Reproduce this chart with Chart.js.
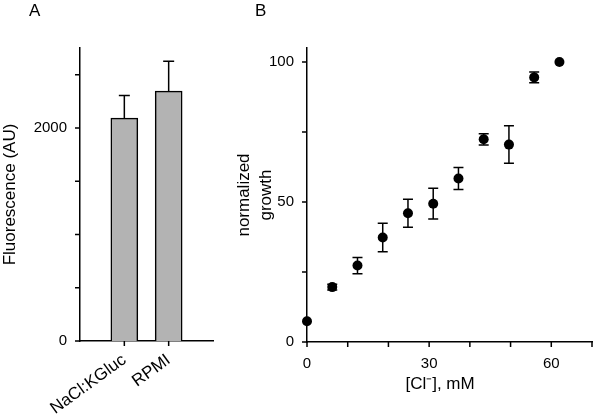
<!DOCTYPE html>
<html>
<head>
<meta charset="utf-8">
<script src="https://cdn.jsdelivr.net/npm/chart.js@4.4.1/dist/chart.umd.min.js"></script>
<style>
  body { margin: 0; background: #fff; }
  #contenedor { position: relative; width: 600px; height: 415px; }
  .letra { position: absolute; font: 17px "Liberation Sans", Arial, sans-serif; color: #000; line-height: 17px; }
  #panelA { position: absolute; left: 0; top: 0; }
  #panelB { position: absolute; left: 230px; top: 0; }
</style>
</head>
<body>
<div id="contenedor">
  <canvas id="panelA" width="230" height="415"></canvas>
  <canvas id="panelB" width="370" height="415"></canvas>
  <div class="letra" style="left:29px; top:2px;">A</div>
  <div class="letra" style="left:255px; top:2px;">B</div>
</div>
<script>
// panel A: fluorescencia
const categoriasA = ["NaCl:KGluc", "RPMI"];
const posicionesA = [1, 2];
const valoresA = [2092, 2345];
const erroresA = [213, 280];
const ticksA = [0, 500, 1000, 1500, 2000, 2500];
const etiquetasA = [0, 2000];

// panel B: crecimiento normalizado
const cloruro = [0, 6.2, 12.4, 18.6, 24.8, 31, 37.2, 43.4, 49.6, 55.8, 62];
const crecimiento = [7.4, 19.6, 27.3, 37.3, 46.0, 49.4, 58.4, 72.4, 70.5, 94.5, 100];
const erroresB = [0, 1.0, 2.9, 5.1, 5.0, 5.5, 3.9, 2.0, 6.7, 1.9, 0];
const ticksBx = [0, 10, 20, 30, 40, 50, 60, 70];
const etiquetasBx = [0, 30, 60];
const ticksBy = [0, 25, 50, 75, 100];
const etiquetasBy = [0, 50, 100];

const fuente = "'Liberation Sans', Arial, sans-serif";
Chart.defaults.font.family = fuente;
Chart.defaults.color = "#000";

// la rejilla no se pinta, pero deja sitio para las marcas
function rejilla() {
  return {
    display: false,
    offset: false,
    drawOnChartArea: false,
    drawTicks: true,
    tickLength: 5
  };
}

// marcas de los ejes hacia fuera, en los ticks de cada escala
const pluginMarcas = {
  id: "marcas",
  afterDraw(chart) {
    const ctx = chart.ctx;
    const area = chart.chartArea;
    ctx.save();
    ctx.strokeStyle = "#000";
    ctx.lineWidth = 1.5;
    ctx.beginPath();
    chart.scales.x.ticks.forEach(t => {
      var px = chart.scales.x.getPixelForValue(t.value);
      ctx.moveTo(px, area.bottom);
      ctx.lineTo(px, area.bottom + 5);
    });
    chart.scales.y.ticks.forEach(t => {
      var py = chart.scales.y.getPixelForValue(t.value);
      ctx.moveTo(area.left, py);
      ctx.lineTo(area.left - 5, py);
    });
    ctx.stroke();
    ctx.restore();
  }
};

// barras de error: se dibujan con las escalas del grafico
function pluginErrores(xs, ys, errs, soloArriba, ancho) {
  return {
    id: "errores",
    beforeDatasetsDraw(chart) {
      if (soloArriba) return;
      dibujar(chart);
    },
    afterDatasetsDraw(chart) {
      if (!soloArriba) return;
      dibujar(chart);
    }
  };
  function dibujar(chart) {
    const ctx = chart.ctx;
    const ex = chart.scales.x;
    const ey = chart.scales.y;
    ctx.save();
    ctx.strokeStyle = "#000";
    ctx.lineWidth = 1.5;
    for (var i = 0; i < xs.length; i++) {
      if (!errs[i]) continue;
      var px = ex.getPixelForValue(xs[i]);
      var arriba = ey.getPixelForValue(ys[i] + errs[i]);
      var abajo = soloArriba ? ey.getPixelForValue(ys[i]) : ey.getPixelForValue(ys[i] - errs[i]);
      ctx.beginPath();
      ctx.moveTo(px, abajo);
      ctx.lineTo(px, arriba);
      ctx.moveTo(px - ancho / 2, arriba);
      ctx.lineTo(px + ancho / 2, arriba);
      if (!soloArriba) {
        ctx.moveTo(px - ancho / 2, abajo);
        ctx.lineTo(px + ancho / 2, abajo);
      }
      ctx.stroke();
    }
    ctx.restore();
  }
}

const datosA = posicionesA.map((p, i) => ({ x: p, y: valoresA[i] }));

new Chart(document.getElementById("panelA"), {
  type: "bar",
  data: {
    datasets: [{
      data: datosA,
      backgroundColor: "#b3b3b3",
      borderColor: "#000",
      borderWidth: 1.5,
      barThickness: 27
    }]
  },
  options: {
    responsive: false,
    animation: false,
    layout: { padding: { top: 48, right: 17, left: 0, bottom: 0 } },
    plugins: { legend: { display: false }, tooltip: { enabled: false } },
    scales: {
      x: {
        type: "linear",
        min: 0,
        max: 3,
        offset: false,
        afterFit: function (escala) { escala.height = 74; },
        afterBuildTicks: function (escala) {
          escala.ticks = posicionesA.map(v => ({ value: v }));
        },
        grid: rejilla(),
        border: { display: true, color: "#000", width: 1.5 },
        ticks: {
          autoSkip: false,
          minRotation: 36,
          maxRotation: 36,
          padding: 4,
          font: { size: 17 },
          callback: function (v) {
            var i = posicionesA.indexOf(v);
            return i >= 0 ? categoriasA[i] : "";
          }
        }
      },
      y: {
        min: 0,
        max: 2750,
        afterFit: function (escala) { escala.width = 80; },
        afterBuildTicks: function (escala) {
          escala.ticks = ticksA.map(v => ({ value: v }));
        },
        grid: rejilla(),
        border: { display: true, color: "#000", width: 1.5 },
        ticks: {
          padding: 8,
          font: { size: 15 },
          callback: function (v) { return etiquetasA.includes(v) ? String(v) : ""; }
        },
        title: {
          display: true,
          text: "Fluorescence (AU)",
          font: { size: 17, lineHeight: 1.25 },
          padding: { top: 0, bottom: 0 }
        }
      }
    }
  },
  plugins: [pluginErrores(posicionesA, valoresA, erroresA, true, 11), pluginMarcas]
});

const datosB = cloruro.map((c, i) => ({ x: c, y: crecimiento[i] }));

new Chart(document.getElementById("panelB"), {
  type: "scatter",
  data: {
    datasets: [{
      data: datosB,
      backgroundColor: "#000",
      borderColor: "#000",
      pointRadius: 5,
      pointBorderWidth: 0,
      clip: false
    }]
  },
  options: {
    responsive: false,
    animation: false,
    layout: { padding: { top: 48, right: 1, left: 0, bottom: 0 } },
    plugins: { legend: { display: false }, tooltip: { enabled: false } },
    scales: {
      x: {
        type: "linear",
        min: 0,
        max: 70,
        afterFit: function (escala) { escala.height = 73; },
        afterBuildTicks: function (escala) {
          escala.ticks = ticksBx.map(v => ({ value: v }));
        },
        grid: rejilla(),
        border: { display: true, color: "#000", width: 1.5 },
        ticks: {
          autoSkip: false,
          maxRotation: 0,
          padding: 8,
          font: { size: 15 },
          callback: function (v) { return etiquetasBx.includes(v) ? String(v) : ""; }
        },
        title: {
          display: true,
          text: "[Cl\u207B], mM    ",
          font: { size: 17, lineHeight: 1.25 },
          padding: { top: 0, bottom: 20 }
        }
      },
      y: {
        min: 0,
        max: 105,
        afterFit: function (escala) { escala.width = 77; },
        afterBuildTicks: function (escala) {
          escala.ticks = ticksBy.map(v => ({ value: v }));
        },
        grid: rejilla(),
        border: { display: true, color: "#000", width: 1.5 },
        ticks: {
          padding: 8,
          font: { size: 15 },
          callback: function (v) { return etiquetasBy.includes(v) ? String(v) : ""; }
        },
        title: {
          display: true,
          text: ["normalized", "growth"],
          font: { size: 17, lineHeight: 1.25 },
          padding: { top: 4, bottom: 0 }
        }
      }
    }
  },
  plugins: [pluginErrores(cloruro, crecimiento, erroresB, false, 10), pluginMarcas]
});
</script>
</body>
</html>
